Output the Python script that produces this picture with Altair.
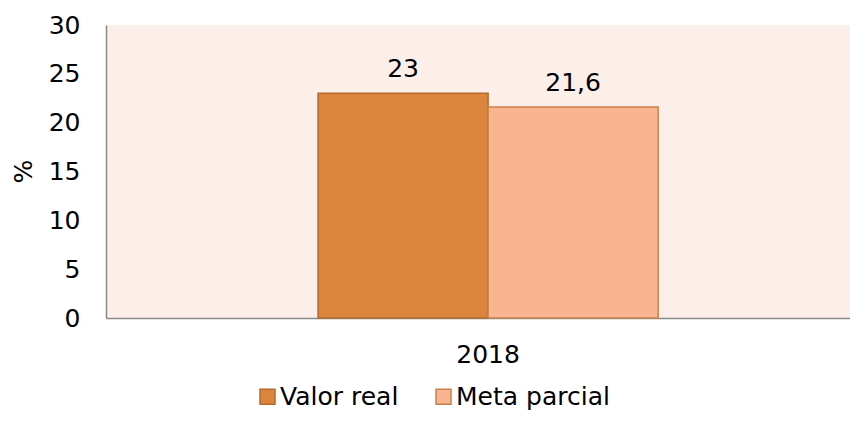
import altair as alt
import pandas as pd

years = ["2018", "2018"]
series = ["Valor real", "Meta parcial"]
values = [23, 21.6]
value_labels = ["23", "21,6"]

fills = ["#DB843D", "#F9B590"]
strokes = ["#B5692B", "#C8814E"]

df = pd.DataFrame({"year": years, "series": series, "value": values, "label": value_labels})

legend = alt.Legend(
    title=None, orient="none", direction="horizontal", legendX=149, legendY=359,
    symbolType="square", symbolSize=225, symbolStrokeWidth=1.5,
    labelFontSize=25, labelOffset=0, columnPadding=32, padding=0,
    labelColor="#000000",
)

base = alt.Chart(df).encode(
    x=alt.X("year:N", title=None,
            scale=alt.Scale(paddingInner=0, paddingOuter=0.594, align=0.525),
            axis=alt.Axis(labelAngle=0, ticks=False, tickSize=0, labelPadding=24,
                          labelFontSize=25, labelColor="#000000",
                          domainColor="#898989", domainWidth=1.5)),
    xOffset=alt.XOffset("series:N", sort=series,
                        scale=alt.Scale(paddingInner=0, paddingOuter=0)),
)

bars = base.mark_bar(strokeWidth=1.5).encode(
    y=alt.Y("value:Q", title="%",
            scale=alt.Scale(domain=[0, 30]),
            axis=alt.Axis(values=[0, 5, 10, 15, 20, 25, 30], grid=False, ticks=False,
                          tickSize=0, labelPadding=26, labelFontSize=25,
                          labelColor="#000000", domainColor="#898989", domainWidth=1.5,
                          titleFontSize=25, titleFontWeight="normal", titleColor="#000000",
                          titleAngle=270, titleX=-83, titleY=146, titleAlign="center",
                          titleBaseline="middle")),
    fill=alt.Fill("series:N", sort=series, scale=alt.Scale(domain=series, range=fills), legend=legend),
    stroke=alt.Stroke("series:N", sort=series, scale=alt.Scale(domain=series, range=strokes), legend=legend),
)

texts = base.mark_text(fontSize=25, baseline="alphabetic", dy=-16, color="#000000").encode(
    y=alt.Y("value:Q"),
    text="label:N",
)

chart = (bars + texts).properties(
    width=744, height=293,
    autosize=alt.AutoSizeParams(type="none"),
    padding={"left": 98, "top": 17, "right": 0, "bottom": 95},
).configure(font="DejaVu Sans").configure_view(fill="#FCEEE9", stroke=None)

chart.save("out.html", embed_options={"renderer": "svg", "actions": False})
